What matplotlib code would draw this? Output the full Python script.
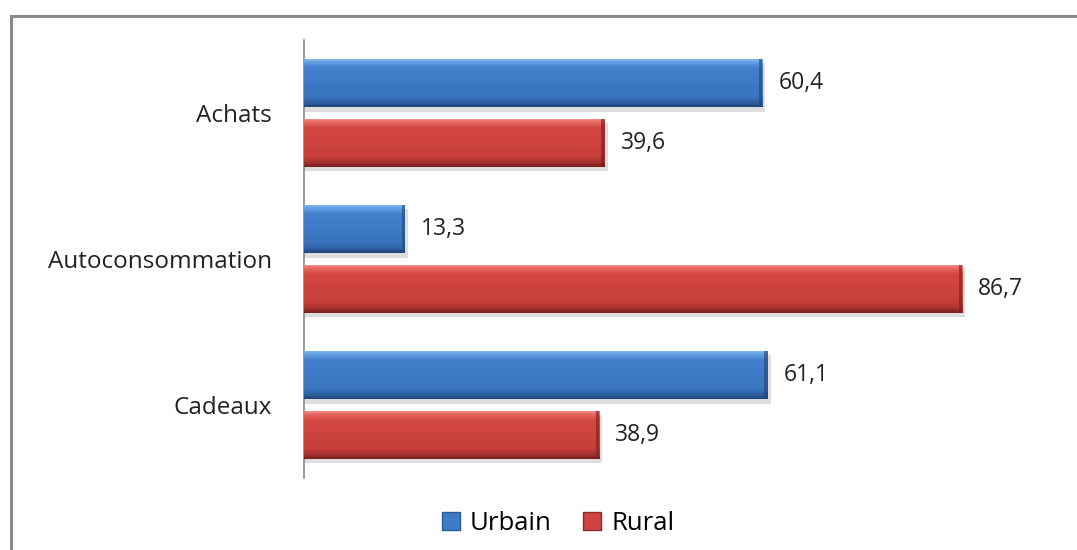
import numpy as np
import matplotlib
matplotlib.use("Agg")
import matplotlib.pyplot as plt
from matplotlib.patches import Rectangle, Patch
from matplotlib.colors import LinearSegmentedColormap

categories = ["Achats", "Autoconsommation", "Cadeaux"]
urbain = [60.4, 13.3, 61.1]
rural = [39.6, 86.7, 38.9]
series_names = ["Urbain", "Rural"]

plt.rcParams["font.family"] = ["Open Sans", "DejaVu Sans"]

fig = plt.figure(figsize=(10.77, 5.5), dpi=100)
ax = fig.add_axes([304 / 1077, 72 / 550, 759 / 1077, 438 / 550])

# outer frame (left and top edges visible)
fig.patches.append(Rectangle((11 / 1077, -0.05), 1.2, 1 - 16 / 550 + 0.05,
                             transform=fig.transFigure, fill=False,
                             edgecolor="#8a8a8a", linewidth=2.2, zorder=0))

y = np.arange(len(categories))
h = 0.33
off = 0.205

blue_cmap = LinearSegmentedColormap.from_list(
    "b", [(0, "#93c4f4"), (0.07, "#69a3e4"), (0.2, "#437fcb"),
          (0.78, "#3a75bf"), (0.9, "#2f62a6"), (1, "#1f4678")])
red_cmap = LinearSegmentedColormap.from_list(
    "r", [(0, "#f9a19c"), (0.07, "#ea6c66"), (0.2, "#d44844"),
          (0.78, "#c73e3b"), (0.9, "#a83230"), (1, "#76201f")])

grad = np.linspace(0, 1, 256).reshape(-1, 1)


def bevel_bars(vals, ypos, cmap, edge):
    bars = ax.barh(ypos, vals, height=h, color="none", edgecolor="none", zorder=3)
    for b, v in zip(bars, vals):
        x0, y0 = b.get_x(), b.get_y()
        w, hh = b.get_width(), b.get_height()
        # drop shadow
        ax.add_patch(Rectangle((x0, y0 + 0.03), w + 0.4, hh, facecolor="#000000",
                               alpha=0.13, edgecolor="none", zorder=2))
        im = ax.imshow(grad, cmap=cmap, aspect="auto",
                       extent=(x0, x0 + w, y0 + hh, y0), zorder=3,
                       interpolation="bilinear")
        im.set_clip_path(b)
        # darker right end facet
        ax.add_patch(Rectangle((x0 + w - 0.45, y0), 0.45, hh, facecolor=edge,
                               alpha=0.6, edgecolor="none", zorder=4))
        ax.text(v + 2.1, y0 + hh / 2, f"{v:.1f}".replace(".", ","),
                va="center", ha="left", fontsize=16.5, color="#222222")
    return bars


bevel_bars(urbain, y - off, blue_cmap, "#1f4678")
bevel_bars(rural, y + off, red_cmap, "#76201f")

ax.set_xlim(0, 100)
ax.set_ylim(2.5, -0.5)
ax.set_yticks(y)
ax.set_yticklabels(categories, fontsize=17.5, color="#222222")
ax.tick_params(axis="y", length=0, pad=23)
ax.set_xticks([])
for s in ["top", "right", "bottom"]:
    ax.spines[s].set_visible(False)
ax.spines["left"].set_color("#8a8a8a")
ax.spines["left"].set_linewidth(1.2)

handles = [Patch(facecolor="#3f7cc8", edgecolor="#2a5a9a"),
           Patch(facecolor="#cf4341", edgecolor="#8e2a2a")]
fig.legend(handles, series_names, loc="center", ncol=2,
           bbox_to_anchor=(558 / 1077, 1 - 523 / 550), frameon=False,
           fontsize=18.5, handlelength=0.7, handleheight=0.7,
           handletextpad=0.4, columnspacing=1.2)

fig.savefig("out.png", dpi=100, facecolor="white")
